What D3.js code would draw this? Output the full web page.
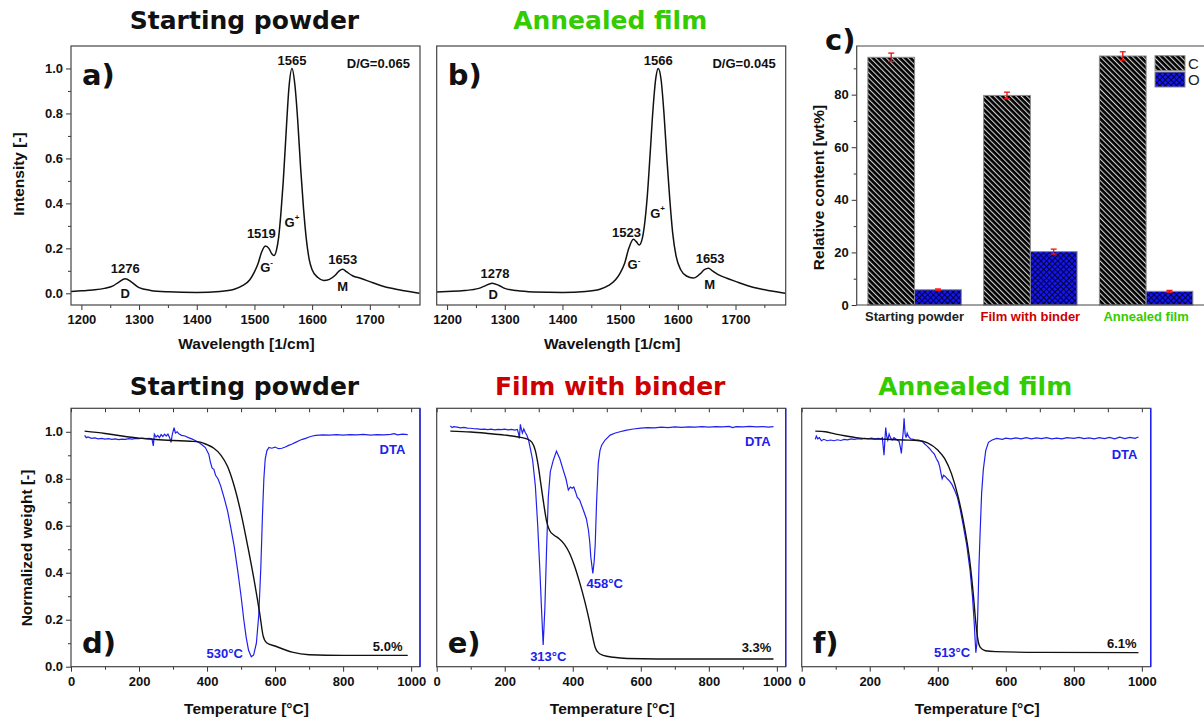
<!DOCTYPE html>
<html>
<head>
<meta charset="utf-8">
<script src="https://cdn.jsdelivr.net/npm/d3@7"></script>
<style>
body { margin: 0; background: #fff; }
</style>
</head>
<body>
<svg id="fig" width="1204" height="719"></svg>
<script>
// ---- data ----
var ramanTicks = [1200, 1300, 1400, 1500, 1600, 1700];
var ramanMinor = [1250, 1350, 1450, 1550, 1650, 1750];
var intensityTicks = [0, 0.2, 0.4, 0.6, 0.8, 1.0];
var intensityMinor = [0.1, 0.3, 0.5, 0.7, 0.9];

// [wavenumber, intensity]
var powderRaman = [[1182,0.008],[1200,0.011],[1220,0.015],[1240,0.022],[1255,0.033],[1265,0.05],[1276,0.065],[1287,0.05],[1300,0.025],
  [1320,0.013],[1350,0.007],[1400,0.004],[1440,0.008],[1465,0.018],[1480,0.035],[1492,0.06],[1500,0.095],[1506,0.13],[1512,0.18],
  [1519,0.21],[1525,0.2],[1530,0.176],[1534,0.168],[1538,0.19],[1542,0.25],[1546,0.36],[1550,0.5],[1555,0.72],[1560,0.92],[1565,1.0],
  [1570,0.93],[1575,0.77],[1580,0.56],[1585,0.38],[1590,0.24],[1595,0.15],[1600,0.105],[1610,0.07],[1620,0.057],[1630,0.062],
  [1640,0.08],[1647,0.1],[1653,0.107],[1660,0.095],[1670,0.078],[1685,0.066],[1700,0.052],[1720,0.034],[1740,0.021],[1760,0.011],[1786,0.0]];
var annealedRaman = [[1182,0.006],[1200,0.008],[1230,0.012],[1255,0.022],[1265,0.032],[1278,0.045],[1290,0.035],[1300,0.022],
  [1320,0.012],[1350,0.006],[1400,0.004],[1440,0.008],[1465,0.018],[1480,0.035],[1492,0.06],[1500,0.09],[1508,0.135],[1515,0.2],
  [1523,0.24],[1528,0.23],[1533,0.215],[1538,0.24],[1542,0.3],[1547,0.43],[1552,0.62],[1557,0.82],[1562,0.96],[1566,1.0],[1571,0.95],
  [1576,0.8],[1581,0.6],[1586,0.42],[1591,0.27],[1597,0.165],[1605,0.105],[1615,0.077],[1627,0.068],[1638,0.085],[1646,0.105],
  [1653,0.112],[1660,0.1],[1670,0.083],[1685,0.067],[1700,0.053],[1720,0.035],[1740,0.021],[1760,0.011],[1786,0.0]];

// peak annotations [text, wavenumber, intensity]
var powderNotes = [["1276",1276,0.112],["D",1276,-0.003],["1519",1512,0.268],["G-",1521,0.117],["1565",1565,1.037],["G+",1565,0.317],["1653",1653,0.152],["M",1653,0.032]];
var annealedNotes = [["1278",1283,0.09],["D",1280,-0.007],["1523",1511,0.271],["G-",1524,0.126],["1566",1566,1.037],["G+",1565,0.356],["1653",1656,0.155],["M",1655,0.037]];

// EDX
var samples = ["Starting powder", "Film with binder", "Annealed film"];
var elements = ["C", "O"];
var carbon = [94.2, 79.7, 94.7];
var oxygen = [5.8, 20.3, 5.2];
var carbonErr = [1.6, 1.25, 1.6];
var oxygenErr = [0.3, 0.95, 0.35];
var contentTicks = [0, 20, 40, 60, 80];
var contentMinor = [10, 30, 50, 70, 90];

// TGA / DTA [temperature, normalized]
var tempTicks = [0, 200, 400, 600, 800, 1000];
var tempMinor = [100, 300, 500, 700, 900];
var weightTicks = [0, 0.2, 0.4, 0.6, 0.8, 1.0];
var weightMinor = [0.1, 0.3, 0.5, 0.7, 0.9];

var powderTGA = [[40,1.003],[100,0.993],[150,0.982],[200,0.973],[250,0.967],[300,0.963],[350,0.96],[380,0.956],[400,0.945],[420,0.93],
  [440,0.902],[460,0.853],[480,0.768],[500,0.652],[520,0.51],[540,0.355],[555,0.225],[565,0.13],[575,0.102],[600,0.088],[650,0.062],
  [700,0.051],[800,0.048],[990,0.048]];
var powderDTA = [[40,0.985],[45,0.975],[50,0.978],[60,0.972],[70,0.974],[80,0.97],[90,0.972],[100,0.969],[110,0.971],[120,0.968],
  [130,0.97],[140,0.967],[150,0.969],[160,0.968],[170,0.971],[180,0.969],[190,0.972],[200,0.971],[210,0.973],[220,0.971],[230,0.972],
  [238,0.97],[242,0.94],[245,0.99],[250,0.978],[255,0.985],[260,0.975],[265,0.988],[270,0.98],[275,0.99],[280,0.982],[285,0.99],
  [290,0.975],[294,0.955],[298,0.99],[303,1.018],[307,0.995],[312,1.0],[318,0.99],[325,0.985],[335,0.982],[345,0.975],[355,0.97],
  [365,0.963],[375,0.955],[385,0.945],[395,0.933],[405,0.905],[410,0.87],[415,0.845],[420,0.84],[425,0.815],[432,0.8],[440,0.77],
  [450,0.72],[460,0.665],[470,0.59],[480,0.51],[490,0.41],[500,0.3],[508,0.2],[515,0.125],[522,0.07],[530,0.042],[537,0.05],
  [545,0.1],[552,0.22],[558,0.42],[563,0.65],[567,0.8],[571,0.885],[576,0.92],[582,0.933],[590,0.93],[600,0.935],[610,0.928],
  [620,0.93],[630,0.935],[640,0.942],[650,0.948],[660,0.955],[670,0.962],[680,0.968],[690,0.972],[700,0.978],[710,0.982],[720,0.985],
  [740,0.987],[760,0.986],[780,0.988],[800,0.986],[820,0.988],[840,0.987],[860,0.989],[880,0.986],[900,0.988],[920,0.987],[940,0.989],
  [950,0.992],[960,0.987],[975,0.99],[990,0.988]];

var binderTGA = [[40,1.003],[100,0.999],[150,0.993],[200,0.986],[240,0.978],[265,0.97],[280,0.955],[290,0.92],[298,0.86],[306,0.78],
  [315,0.69],[323,0.62],[332,0.58],[345,0.56],[360,0.545],[375,0.522],[390,0.485],[405,0.43],[420,0.36],[435,0.28],[448,0.2],
  [458,0.13],[466,0.082],[475,0.06],[490,0.048],[520,0.04],[560,0.035],[650,0.033],[990,0.033]];
var binderDTA = [[40,1.025],[45,1.018],[50,1.022],[60,1.02],[70,1.017],[80,1.019],[90,1.016],[100,1.015],[110,1.013],[120,1.012],
  [130,1.01],[140,1.011],[150,1.009],[160,1.011],[170,1.008],[180,1.01],[190,1.009],[200,1.011],[210,1.008],[220,1.01],[230,1.007],
  [237,1.01],[241,0.99],[243,0.972],[246,1.032],[249,1.01],[252,0.995],[256,1.012],[260,0.998],[265,0.985],[270,0.965],[275,0.93],
  [282,0.88],[290,0.77],[297,0.6],[303,0.42],[308,0.25],[313,0.092],[318,0.25],[323,0.5],[328,0.72],[334,0.83],[342,0.875],
  [352,0.918],[362,0.885],[372,0.837],[380,0.8],[387,0.752],[393,0.765],[398,0.76],[403,0.765],[408,0.745],[413,0.722],[420,0.71],
  [431,0.667],[440,0.63],[446,0.582],[450,0.53],[453,0.468],[459,0.397],[463,0.45],[466,0.52],[470,0.7],[475,0.865],[480,0.92],
  [485,0.943],[495,0.965],[510,0.986],[525,0.995],[539,1.0],[555,1.006],[578,1.012],[600,1.016],[620,1.018],[640,1.017],[660,1.02],
  [680,1.018],[700,1.021],[720,1.019],[740,1.021],[760,1.02],[780,1.022],[800,1.02],[820,1.022],[840,1.021],[860,1.023],[870,1.018],
  [880,1.022],[900,1.021],[920,1.023],[940,1.021],[960,1.022],[975,1.02],[990,1.022]];

var annealedTGA = [[40,1.003],[70,1.0],[100,0.99],[130,0.982],[160,0.975],[200,0.97],[250,0.968],[300,0.965],[340,0.963],[370,0.953],
  [400,0.922],[420,0.887],[440,0.823],[460,0.723],[480,0.582],[495,0.44],[505,0.3],[512,0.185],[518,0.115],[525,0.082],[540,0.068],
  [570,0.064],[700,0.061],[990,0.06]];
var annealedDTA = [[40,0.968],[43,0.982],[47,0.97],[52,0.975],[58,0.962],[65,0.968],[75,0.962],[85,0.965],[95,0.962],[105,0.966],
  [115,0.963],[125,0.968],[135,0.966],[145,0.97],[155,0.968],[165,0.971],[175,0.969],[185,0.972],[195,0.97],[205,0.973],[215,0.97],
  [225,0.972],[233,0.97],[237,0.975],[240,0.93],[242,0.9],[245,0.975],[247,1.018],[250,0.98],[253,0.965],[257,0.99],[261,0.975],
  [266,0.965],[271,0.975],[276,0.97],[281,0.965],[286,0.96],[290,0.935],[293,0.908],[296,0.96],[299,1.01],[301,1.057],[304,0.99],
  [307,0.975],[310,0.995],[314,0.98],[320,0.97],[328,0.968],[336,0.965],[344,0.965],[350,0.962],[355,0.958],[360,0.95],[368,0.94],
  [375,0.93],[382,0.918],[390,0.905],[396,0.885],[402,0.87],[406,0.85],[410,0.82],[413,0.8],[417,0.815],[422,0.81],[428,0.8],
  [435,0.79],[442,0.775],[450,0.75],[458,0.72],[466,0.67],[475,0.6],[485,0.52],[495,0.41],[502,0.3],[507,0.19],[510,0.11],
  [512,0.06],[515,0.1],[518,0.25],[521,0.42],[524,0.55],[529,0.74],[534,0.84],[541,0.92],[549,0.955],[560,0.965],[573,0.972],
  [590,0.968],[600,0.973],[615,0.97],[630,0.974],[645,0.97],[660,0.975],[675,0.97],[690,0.974],[705,0.971],[720,0.975],[735,0.97],
  [750,0.973],[765,0.97],[780,0.975],[800,0.972],[815,0.976],[830,0.971],[845,0.974],[860,0.97],[875,0.975],[890,0.971],[905,0.976],
  [920,0.97],[935,0.977],[950,0.971],[965,0.976],[980,0.972],[990,0.978]];

// annotations [text, temperature, value, series]
var powderNotes2 = [["DTA",945,0.926,"dta"],["530°C",452,0.057,"dta"],["5.0%",931,0.085,"tga"]];
var binderNotes2 = [["DTA",944,0.957,"dta"],["458°C",494,0.355,"dta"],["313°C",328,0.045,"dta"],["3.3%",940,0.081,"tga"]];
var annealedNotes2 = [["DTA",949,0.904,"dta"],["513°C",442,0.06,"dta"],["6.1%",941,0.1,"tga"]];

// ---- drawing ----
var svg = d3.select("#fig");
var SANS = '"Liberation Sans", Arial, sans-serif';
var TITLE = '"DejaVu Sans", Verdana, sans-serif';
var BLUE = "#2020ee", GREEN = "#33cc00", RED = "#cc0000";

var defs = svg.append("defs");
var pc = defs.append("pattern").attr("id", "hatchC").attr("patternUnits", "userSpaceOnUse")
    .attr("width", 3.8).attr("height", 3.8).attr("patternTransform", "rotate(-45)");
pc.append("rect").attr("width", 3.8).attr("height", 3.8).attr("fill", "#000");
pc.append("rect").attr("width", 1.1).attr("height", 3.8).attr("fill", "#d0d0d0");
var po = defs.append("pattern").attr("id", "hatchO").attr("patternUnits", "userSpaceOnUse")
    .attr("width", 4).attr("height", 4).attr("patternTransform", "rotate(45)");
po.append("rect").attr("width", 4).attr("height", 4).attr("fill", "#1515f0");
po.append("rect").attr("width", 0.9).attr("height", 4).attr("fill", "#000033");
po.append("rect").attr("width", 4).attr("height", 0.9).attr("fill", "#000033");

function addAxis(g, axis, transform) {
  var a = g.append("g").attr("transform", transform).call(axis);
  a.select(".domain").remove();
  a.selectAll("line").attr("stroke", "#333").attr("stroke-width", 1);
  a.selectAll("text").attr("font-family", SANS).attr("font-weight", "bold")
    .attr("font-size", 13).attr("fill", "#111");
  return a;
}

function text(g, s, x, y, opts) {
  opts = opts || {};
  return g.append("text").attr("x", x).attr("y", y)
    .attr("text-anchor", opts.anchor || "middle")
    .attr("font-family", opts.family || SANS)
    .attr("font-weight", opts.weight || "bold")
    .attr("font-size", opts.size || 13)
    .attr("fill", opts.color || "#111")
    .text(s);
}

function frame(g, x0, x1, y0, y1, rightColor) {
  g.append("rect").attr("x", x0).attr("y", y0).attr("width", x1 - x0).attr("height", y1 - y0)
    .attr("fill", "none").attr("stroke", "#444").attr("stroke-width", 1.2);
  if (rightColor) {
    g.append("line").attr("x1", x1).attr("x2", x1).attr("y1", y0).attr("y2", y1)
      .attr("stroke", rightColor).attr("stroke-width", 1.4);
  }
}

function clip(id, x0, x1, y0, y1) {
  defs.append("clipPath").attr("id", id).append("rect")
    .attr("x", x0).attr("y", y0).attr("width", x1 - x0).attr("height", y1 - y0);
  return "url(#" + id + ")";
}

// Raman panels
function raman(x0, series, notes, ratio, letter, title, titleColor, withY) {
  var g = svg.append("g");
  var x1 = x0 + 349, top = 46, bottom = 305;
  var x = d3.scaleLinear().domain([1182, 1787]).range([x0, x1]);
  var y = d3.scaleLinear().domain([-0.052, 1.1]).range([bottom, top]);

  addAxis(g, d3.axisBottom(x).tickValues(ramanMinor).tickSize(3).tickFormat(""), "translate(0," + bottom + ")");
  addAxis(g, d3.axisBottom(x).tickValues(ramanTicks).tickSize(5).tickPadding(5).tickFormat(d3.format("d")), "translate(0," + bottom + ")");
  if (withY) {
    addAxis(g, d3.axisLeft(y).tickValues(intensityMinor).tickSize(3).tickFormat(""), "translate(" + x0 + ",0)");
    addAxis(g, d3.axisLeft(y).tickValues(intensityTicks).tickSize(5).tickPadding(3).tickFormat(d3.format(".1f")), "translate(" + x0 + ",0)");
    text(g, "Intensity [-]", 0, 0, {size: 15.5}).attr("transform", "translate(23.5,174) rotate(-90)");
  }

  g.append("path").datum(series)
    .attr("clip-path", clip("clip" + letter, x0, x1, top, bottom))
    .attr("fill", "none").attr("stroke", "#111").attr("stroke-width", 1.5)
    .attr("d", d3.line().x(function(d) { return x(d[0]); }).y(function(d) { return y(d[1]); }).curve(d3.curveMonotoneX));

  notes.forEach(function(n) {
    var t = text(g, n[0].charAt(0), x(n[1]), y(n[2]), {size: 13}).attr("dominant-baseline", "central");
    if (n[0].length === 2 && n[0].charAt(0) === "G") {
      t.append("tspan").attr("dy", -5).attr("font-size", 8).text(n[0].charAt(1) === "-" ? "-" : "+");
    } else {
      t.text(n[0]);
    }
  });
  text(g, ratio, x1 - 10, 67.5, {anchor: "end", size: 13});
  text(g, letter + ")", x0 + 11, 85, {anchor: "start", family: TITLE, size: 29});
  text(g, "Wavelength [1/cm]", (x0 + x1) / 2 + 1, 348.5, {size: 15.5});
  text(g, title, (x0 + x1) / 2 - 1, 28.5, {family: TITLE, size: 25, color: titleColor});
  frame(g, x0, x1, top, bottom, null);
}

raman(71, powderRaman, powderNotes, "D/G=0.065", "a", "Starting powder", "#111", true);
raman(436.7, annealedRaman, annealedNotes, "D/G=0.045", "b", "Annealed film", GREEN, false);

// EDX bar panel
(function() {
  var g = svg.append("g");
  var x0 = 856.7, x1 = 1204, top = 46, bottom = 305;
  var x = d3.scaleBand().domain(samples).range([x0, x1]).paddingInner(0.193).paddingOuter(0.0965);
  var xs = d3.scaleBand().domain(elements).range([0, x.bandwidth()]);
  var y = d3.scaleLinear().domain([0, 98.5]).range([bottom, top]);
  var fills = {C: "url(#hatchC)", O: "url(#hatchO)"};
  var values = {C: carbon, O: oxygen};
  var errs = {C: carbonErr, O: oxygenErr};

  addAxis(g, d3.axisLeft(y).tickValues(contentMinor).tickSize(3).tickFormat(""), "translate(" + x0 + ",0)");
  addAxis(g, d3.axisLeft(y).tickValues(contentTicks).tickSize(5).tickPadding(3), "translate(" + x0 + ",0)");

  elements.forEach(function(el) {
    g.selectAll(".bar" + el).data(samples).enter().append("rect")
      .attr("x", function(s) { return x(s) + xs(el); })
      .attr("width", xs.bandwidth())
      .attr("y", function(s, i) { return y(values[el][i]); })
      .attr("height", function(s, i) { return bottom - y(values[el][i]); })
      .attr("fill", fills[el]).attr("stroke", "#8a8a8a").attr("stroke-width", 1);
    samples.forEach(function(s, i) {
      var cx = x(s) + xs(el) + xs.bandwidth() / 2;
      var lo = y(values[el][i] - errs[el][i]), hi = y(values[el][i] + errs[el][i]);
      var eg = g.append("g").attr("stroke", "#ee1111").attr("stroke-width", 1.3);
      eg.append("line").attr("x1", cx).attr("x2", cx).attr("y1", lo).attr("y2", hi);
      eg.append("line").attr("x1", cx - 3).attr("x2", cx + 3).attr("y1", lo).attr("y2", lo);
      eg.append("line").attr("x1", cx - 3).attr("x2", cx + 3).attr("y1", hi).attr("y2", hi);
    });
  });

  var labelColors = ["#222", RED, GREEN];
  samples.forEach(function(s, i) {
    text(g, s, x(s) + x.bandwidth() / 2, 321, {size: 13, color: labelColors[i]});
  });

  elements.forEach(function(el, i) {
    g.append("rect").attr("x", 1155).attr("y", 55.7 + i * 16.3).attr("width", 30).attr("height", 15)
      .attr("fill", fills[el]).attr("stroke", "#8a8a8a").attr("stroke-width", 1);
    text(g, el, 1188, 68.5 + i * 16.3, {anchor: "start", weight: "normal", size: 15, color: "#222"});
  });

  text(g, "Relative content [wt%]", 0, 0, {size: 15.5}).attr("transform", "translate(823.5,187.5) rotate(-90)");
  text(g, "c)", 825, 50, {anchor: "start", family: TITLE, size: 29});

  g.append("path").attr("d", "M" + x1 + "," + top + "H" + x0 + "V" + bottom + "H" + x1)
    .attr("fill", "none").attr("stroke", "#444").attr("stroke-width", 1.2);
})();

// TGA / DTA panels
function thermal(x0, tga, dta, notes, letter, title, titleColor, withY) {
  var g = svg.append("g");
  var x1 = x0 + 349, top = 408.3, bottom = 666.7;
  var x = d3.scaleLinear().domain([0, 1026]).range([x0, x1]);
  var y = d3.scaleLinear().domain([0, 1.1]).range([bottom, top]);

  addAxis(g, d3.axisBottom(x).tickValues(tempMinor).tickSize(3).tickFormat(""), "translate(0," + bottom + ")");
  addAxis(g, d3.axisBottom(x).tickValues(tempTicks).tickSize(5).tickPadding(5).tickFormat(d3.format("d")), "translate(0," + bottom + ")");
  addAxis(g, d3.axisBottom(x).tickValues(tempTicks.concat(tempMinor)).tickSize(4).tickFormat(""), "translate(0," + top + ")");
  if (withY) {
    addAxis(g, d3.axisLeft(y).tickValues(weightMinor).tickSize(3).tickFormat(""), "translate(" + x0 + ",0)");
    addAxis(g, d3.axisLeft(y).tickValues(weightTicks).tickSize(5).tickPadding(3).tickFormat(d3.format(".1f")), "translate(" + x0 + ",0)");
    text(g, "Normalized weight [-]", 0, 0, {size: 15.5}).attr("transform", "translate(31.5,548) rotate(-90)");
  }

  var line = d3.line().x(function(d) { return x(d[0]); }).y(function(d) { return y(d[1]); });
  var cp = clip("clip" + letter, x0, x1, top, bottom);
  g.append("path").datum(dta).attr("clip-path", cp)
    .attr("fill", "none").attr("stroke", BLUE).attr("stroke-width", 1.2).attr("d", line);
  g.append("path").datum(tga).attr("clip-path", cp)
    .attr("fill", "none").attr("stroke", "#111").attr("stroke-width", 1.4)
    .attr("d", line.curve(d3.curveMonotoneX));

  notes.forEach(function(n) {
    text(g, n[0], x(n[1]), y(n[2]), {size: 13, color: n[3] === "dta" ? BLUE : "#111"})
      .attr("dominant-baseline", "central");
  });
  text(g, letter + ")", x0 + 11, 653.3, {anchor: "start", family: TITLE, size: 29});
  text(g, "Temperature [°C]", (x0 + x1) / 2 + 1, 713.5, {size: 15.5});
  text(g, title, (x0 + x1) / 2 - 1, 395, {family: TITLE, size: 25, color: titleColor});
  frame(g, x0, x1, top, bottom, BLUE);
}

thermal(71, powderTGA, powderDTA, powderNotes2, "d", "Starting powder", "#111", true);
thermal(436.7, binderTGA, binderDTA, binderNotes2, "e", "Film with binder", RED, false);
thermal(801.7, annealedTGA, annealedDTA, annealedNotes2, "f", "Annealed film", GREEN, false);
</script>
</body>
</html>
